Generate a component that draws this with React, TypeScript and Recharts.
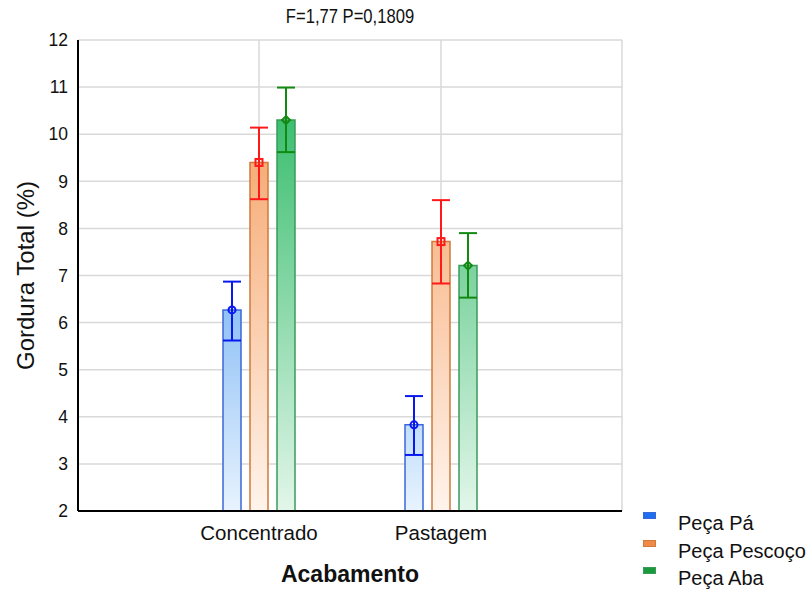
import { BarChart, Bar, XAxis, YAxis, CartesianGrid, ErrorBar, LabelList } from 'recharts'

const categories = ['Concentrado', 'Pastagem']

// group means with lower / upper confidence limits
const paMean = [6.27, 3.83]
const paLow = [5.62, 3.19]
const paHigh = [6.87, 4.44]

const pescocoMean = [9.4, 7.72]
const pescocoLow = [8.62, 6.83]
const pescocoHigh = [10.14, 8.6]

const abaMean = [10.3, 7.21]
const abaLow = [9.62, 6.53]
const abaHigh = [10.99, 7.9]

const yTicks = [2, 3, 4, 5, 6, 7, 8, 9, 10, 11, 12]

const data = categories.map((name, i) => ({
  name,
  pa: paMean[i],
  paErr: [paMean[i] - paLow[i], paHigh[i] - paMean[i]],
  pescoco: pescocoMean[i],
  pescocoErr: [pescocoMean[i] - pescocoLow[i], pescocoHigh[i] - pescocoMean[i]],
  aba: abaMean[i],
  abaErr: [abaMean[i] - abaLow[i], abaHigh[i] - abaMean[i]],
}))

const FONT = '"Liberation Sans", Arial, sans-serif'

const series = [
  { key: 'pa', name: 'Peça Pá', grad: 'gPa', top: '#1a7eec', bottom: '#e8f3fe', edge: '#3a68d8', err: '#0a18f0', icon: '#1e6ff0', marker: 'circle' },
  { key: 'pescoco', name: 'Peça Pescoço', grad: 'gPes', top: '#f39450', bottom: '#fff4ec', edge: '#d07a3a', err: '#ff1a1a', icon: '#f08a48', marker: 'square' },
  { key: 'aba', name: 'Peça Aba', grad: 'gAba', top: '#1bb357', bottom: '#e2f6ea', edge: '#3a9a5a', err: '#128a12', icon: '#1a9a3a', marker: 'diamond' },
]

function makeMarker(kind: string, color: string) {
  return (props: any) => {
    const { x, y, width } = props
    const cx = x + width / 2
    if (kind === 'circle') return <circle cx={cx} cy={y} r={3.5} fill="none" stroke={color} strokeWidth={2} />
    if (kind === 'square') return <rect x={cx - 3.5} y={y - 3.5} width={7} height={7} fill="none" stroke={color} strokeWidth={2} />
    return <path d={`M${cx},${y - 4} L${cx + 4},${y} L${cx},${y + 4} L${cx - 4},${y} Z`} fill="none" stroke={color} strokeWidth={2} />
  }
}

function LegendBox() {
  return (
    <div style={{ position: 'absolute', left: 643, top: 510, fontFamily: FONT, fontSize: 20 }}>
      {series.map((s) => (
        <div key={s.key} style={{ display: 'flex', alignItems: 'center', height: 27.5 }}>
          <div style={{ width: 11, height: 5, background: s.icon, border: `1px solid ${s.edge}`, marginRight: 22, position: 'relative', top: -8 }} />
          <span style={{ color: '#111' }}>{s.name}</span>
        </div>
      ))}
    </div>
  )
}

export default function App() {
  return (
    <div style={{ position: 'absolute', left: 0, top: 0, width: 812, height: 589, background: '#fff' }}>
      <div style={{ position: 'absolute', left: 0, width: 700, top: 5, textAlign: 'center', fontFamily: FONT, fontSize: 20, color: '#111', transform: 'scaleX(0.83)', transformOrigin: '350px 0' }}>
        F=1,77 P=0,1809
      </div>
      <BarChart width={812} height={589} data={data} margin={{ top: 40, right: 190, bottom: 0, left: 18 }} barSize={18} barGap={9} barCategoryGap={0}>
        <defs>
          {series.map((s) => (
            <linearGradient key={s.grad} id={s.grad} gradientUnits="userSpaceOnUse" x1="0" y1="40" x2="0" y2="511">
              <stop offset="0" stopColor={s.top} />
              <stop offset="1" stopColor={s.bottom} />
            </linearGradient>
          ))}
        </defs>
        <CartesianGrid stroke="#d9d9d9" strokeWidth={1.5} />
        <XAxis
          dataKey="name"
          height={78}
          padding={{ left: 90, right: 90 }}
          axisLine={{ stroke: '#000', strokeWidth: 2 }}
          tickLine={false}
          tickMargin={8}
          tick={{ fill: '#111', fontSize: 20.5, fontFamily: FONT }}
          label={{ value: 'Acabamento', position: 'insideBottom', offset: 7, fill: '#111', fontSize: 23, fontWeight: 'bold', fontFamily: FONT }}
        />
        <XAxis xAxisId="top" dataKey="name" orientation="top" height={0} tick={false} tickLine={false} axisLine={{ stroke: '#000', strokeWidth: 2 }} />
        <YAxis
          domain={[2, 12]}
          ticks={yTicks}
          width={60}
          interval={0}
          axisLine={{ stroke: '#000', strokeWidth: 2 }}
          tickLine={false}
          tickMargin={4}
          tick={{ fill: '#111', fontSize: 17.5, fontFamily: FONT }}
          label={{ value: 'Gordura Total (%)', angle: -90, position: 'insideLeft', offset: 7, style: { textAnchor: 'middle' }, fill: '#111', fontSize: 24, fontFamily: FONT }}
        />
        <YAxis yAxisId="right" orientation="right" domain={[2, 12]} width={0} tick={false} tickLine={false} axisLine={{ stroke: '#000', strokeWidth: 2 }} />
        {series.map((s) => (
          <Bar key={s.key} dataKey={s.key} name={s.name} fill={`url(#${s.grad})`} stroke={s.edge} strokeWidth={1.5} isAnimationActive={false}>
            <ErrorBar dataKey={`${s.key}Err`} width={9} strokeWidth={2} stroke={s.err} direction="y" />
            <LabelList dataKey={s.key} content={makeMarker(s.marker, s.err)} />
          </Bar>
        ))}
      </BarChart>
      <LegendBox />
    </div>
  )
}
